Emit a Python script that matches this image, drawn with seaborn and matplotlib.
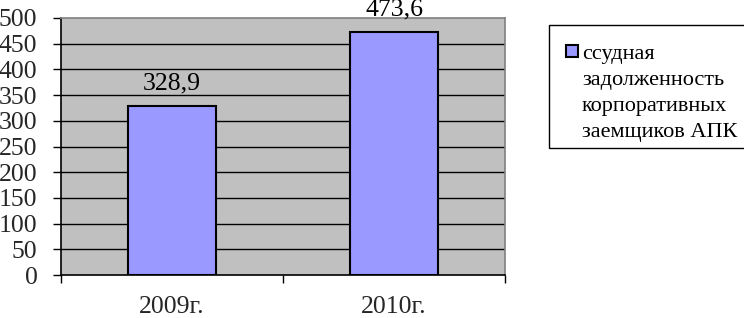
import matplotlib
matplotlib.use("Agg")
import matplotlib.pyplot as plt
import seaborn as sns
import pandas as pd
from matplotlib.patches import Rectangle

categories = ["2009г.", "2010г."]
values = [328.9, 473.6]
value_labels = ["328,9", "473,6"]
yticks = [0, 50, 100, 150, 200, 250, 300, 350, 400, 450, 500]
legend_label = "ссудная\nзадолженность\nкорпоративных\nзаемщиков АПК"

sns.set_theme(style="white")
plt.rcParams["font.family"] = ["Liberation Serif", "DejaVu Serif"]

W, H = 744, 318
fig = plt.figure(figsize=(W / 100, H / 100), dpi=100)
ax = fig.add_axes([61 / W, 43 / H, 444 / W, 257 / H])
ax.set_facecolor("#C0C0C0")

df = pd.DataFrame({"cat": categories, "val": values})
sns.barplot(data=df, x="cat", y="val", color="#9999FF", saturation=1,
            edgecolor="black", linewidth=1.5, width=0.4, ax=ax, zorder=3)

ax.set_ylim(0, 500)
ax.set_xlim(-0.5, 1.5)
ax.set_yticks(yticks)
ax.set_yticklabels([str(t) for t in yticks], fontsize=18.5)
ax.set_xlabel("")
ax.set_ylabel("")
for t in yticks[1:-1]:
    ax.axhline(t, color="black", linewidth=1.0, zorder=1)

for i, (v, lab) in enumerate(zip(values, value_labels)):
    ax.annotate(lab, (i, v), xytext=(0, 8), textcoords="offset points",
                ha="center", va="bottom", fontsize=18.5, color="black")

ax.set_xticks([-0.5, 0.5, 1.5], minor=False)
ax.set_xticklabels(["", "", ""])
ax.set_xticks([0, 1], minor=True)
ax.set_xticklabels(categories, minor=True, fontsize=18.5)
ax.tick_params(axis="x", which="major", length=6, width=1, color="black", direction="out", bottom=True)
ax.tick_params(axis="x", which="minor", length=0, pad=15)
ax.tick_params(axis="y", length=6, width=1, color="black", direction="out", left=True, pad=11)

for side in ["top", "right"]:
    ax.spines[side].set_color("#808080")
    ax.spines[side].set_linewidth(1.2)
for side in ["left", "bottom"]:
    ax.spines[side].set_color("black")
    ax.spines[side].set_linewidth(1.2)

def fx(px):
    return px / W

def fy(py):
    return 1 - py / H

fig.add_artist(Rectangle((fx(549), fy(148)), fx(760) - fx(549), fy(25) - fy(148),
                         transform=fig.transFigure, facecolor="white",
                         edgecolor="black", linewidth=1.0))
fig.add_artist(Rectangle((fx(566), fy(57)), fx(578) - fx(566), fy(45) - fy(57),
                         transform=fig.transFigure, facecolor="#9999FF",
                         edgecolor="black", linewidth=1.5))
fig.text(fx(582), fy(137), legend_label, ha="left", va="baseline",
         fontsize=16, linespacing=1.51, color="black")

fig.savefig("out.png", dpi=100)
